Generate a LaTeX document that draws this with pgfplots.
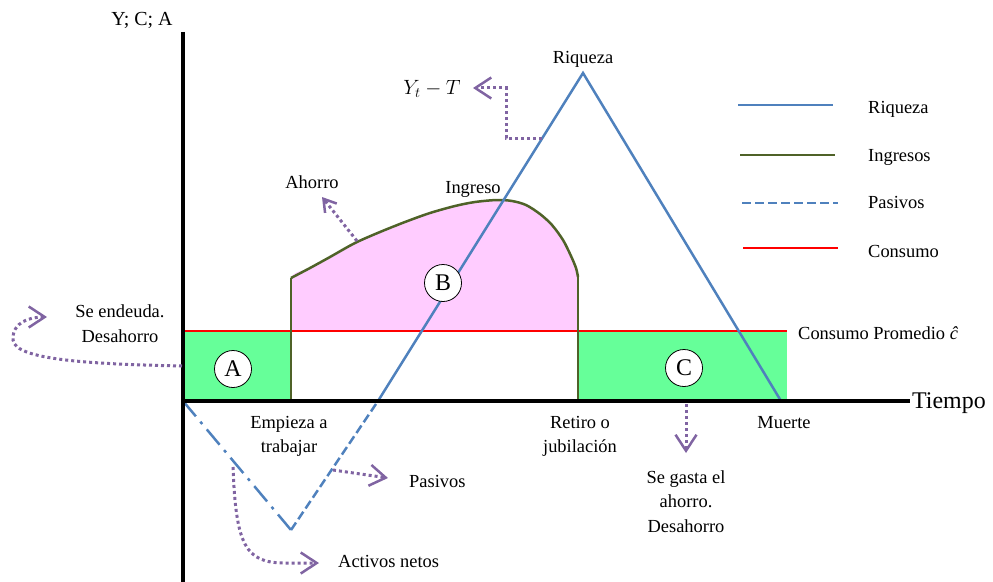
\documentclass[border=0pt]{standalone}
\usepackage{fontspec}
\setmainfont{Liberation Serif}
\usepackage{pgfplots}
\pgfplotsset{compat=1.18}
\usetikzlibrary{arrows.meta}

\definecolor{riq}{HTML}{4F81BD}
\definecolor{ing}{HTML}{4F6228}
\definecolor{rosa}{HTML}{FFCCFF}
\definecolor{verde}{HTML}{66FF99}
\definecolor{lila}{HTML}{8064A2}
\newcommand\fs[1]{\fontsize{#1}{#1}\selectfont}

\begin{document}
\begin{tikzpicture}[
    nota/.style={lila, line width=3bp, dash pattern=on 3bp off 3bp,
      -{Straight Barb[length=16bp, width=21bp, line width=2.5bp]}},
    txt/.style={anchor=base, font=\fs{18.5}, inner sep=0pt},
    letra/.style={circle, draw=black, line width=0.8bp, fill=white,
      minimum size=37bp, inner sep=0pt, font=\fs{24}},
  ]
  \begin{axis}[
      width=993bp, height=582bp, scale only axis,
      xmin=0, xmax=993, ymin=0, ymax=582,
      y dir=reverse,
      axis lines=none,
      clip=false,
    ]
    % areas: A, C (desahorro) y B (ahorro)
    \addplot[fill=verde, draw=none] coordinates {(183,331) (291,331) (291,401) (183,401)} -- cycle;
    \addplot[fill=verde, draw=none] coordinates {(578,331) (787,331) (787,401) (578,401)} -- cycle;
    \addplot[fill=rosa, draw=none, smooth, tension=0.4] coordinates {
      (291,331) (291,278) (310,268) (330,257) (355,243) (380,232) (405,222)
      (430,213) (455,206) (475,202) (497,200) (512,201) (526,205) (540,214)
      (552,225) (563,240) (571,256) (576,268) (578,277) (578,331)} -- cycle;

    % consumo promedio
    \addplot[red, line width=2.5bp] coordinates {(183,331) (787,331)};

    % ingresos
    \addplot[ing, line width=2.5bp] coordinates {(291,401) (291,278)};
    \addplot[ing, line width=2.5bp] coordinates {(578,277) (578,401)};
    \addplot[ing, line width=2.5bp, smooth, tension=0.5] coordinates {
      (291,278) (310,268) (330,257) (355,243) (380,232) (405,222)
      (430,213) (455,206) (475,202) (497,200) (512,201) (526,205) (540,214)
      (552,225) (563,240) (571,256) (576,268) (578,277)};

    % activos netos, pasivos, riqueza
    \addplot[riq, line width=2.5bp, dash pattern=on 20bp off 7bp on 3bp off 7bp]
      coordinates {(183,401) (291,530)};
    \addplot[riq, line width=2.5bp, dash pattern=on 9bp off 4bp]
      coordinates {(291,530) (378,401)};
    \addplot[riq, line width=2.5bp] coordinates {(378,401) (583,73) (781,401)};

    % ejes
    \addplot[black, line width=4bp] coordinates {(183,32) (183,582)};
    \addplot[black, line width=4bp] coordinates {(181,401) (910,401)};

    \node[letra] at (233,369) {A};
    \node[letra] at (443,283) {B};
    \node[letra] at (684,368) {C};

    % textos
    \node[txt, font=\fs{20}] at (142,26) {Y; C; A};
    \node[txt, anchor=base west, font=\fs{24}] at (912,408) {Tiempo};
    \node[txt] at (583,64) {Riqueza};
    \node[txt, font=\fs{21}] at (432,94) {$Y_t - T$};
    \node[txt] at (312,188) {Ahorro};
    \node[txt] at (473,193) {Ingreso};
    \node[txt] at (120,317) {Se endeuda.};
    \node[txt] at (120,342) {Desahorro};
    \node[txt] at (289,428) {Empieza a};
    \node[txt] at (289,452) {trabajar};
    \node[txt] at (580,428) {Retiro o};
    \node[txt] at (580,452) {jubilación};
    \node[txt] at (784,428) {Muerte};
    \node[txt] at (686,483) {Se gasta el};
    \node[txt] at (686,507) {ahorro.};
    \node[txt] at (686,532) {Desahorro};
    \node[txt, anchor=base west] at (409,487) {Pasivos};
    \node[txt, anchor=base west] at (338,567) {Activos netos};
    \node[txt, anchor=base west] at (798,339) {Consumo Promedio \textit{ĉ}};

    % flechas
    \draw[nota] (182,366) .. controls (90,364) and (15,360) .. (13,340)
      .. controls (12,322) and (30,317) .. (47,317);
    \draw[nota] (542,138) -- (506,138) -- (506,88) -- (473,88);
    \draw[nota, -{Straight Barb[length=12bp, width=15bp, line width=2.5bp]}]
      (357,241) -- (322,197);
    \draw[nota] (333,470) -- (388,478);
    \draw[nota] (233,467) .. controls (236,545) and (245,563) .. (285,563) -- (319,563);
    \draw[nota] (686,404) -- (686,453);

    % leyenda
    \addplot[riq, line width=2.5bp] coordinates {(738,105) (833,105)};
    \addplot[ing, line width=2.5bp] coordinates {(740,155) (835,155)};
    \addplot[riq, line width=2.5bp, dash pattern=on 9bp off 4bp] coordinates {(742,203) (838,203)};
    \addplot[red, line width=2.5bp] coordinates {(743,248) (838,248)};
    \node[txt, anchor=base west] at (868,113) {Riqueza};
    \node[txt, anchor=base west] at (868,161) {Ingresos};
    \node[txt, anchor=base west] at (868,208) {Pasivos};
    \node[txt, anchor=base west] at (868,257) {Consumo};
  \end{axis}
  \pgfresetboundingbox
  \useasboundingbox (current axis.south west) rectangle (current axis.north east);
\end{tikzpicture}
\end{document}
